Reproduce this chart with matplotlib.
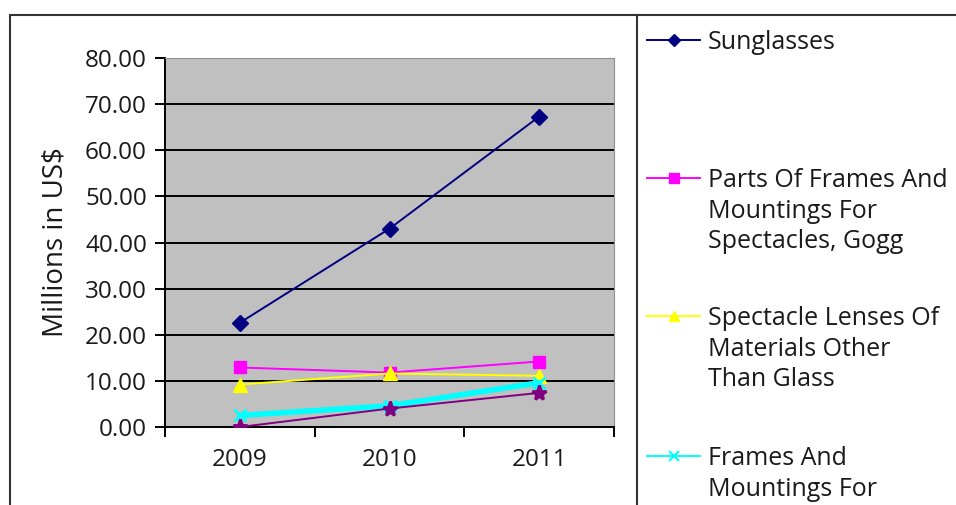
import numpy as np
import matplotlib.pyplot as plt
from matplotlib.lines import Line2D
from matplotlib.patches import Rectangle

plt.rcParams['font.family'] = ['Open Sans', 'DejaVu Sans']

# data
years = ['2009', '2010', '2011']
sunglasses = [22.6, 43.0, 67.3]
parts_frames = [12.9, 11.8, 14.2]
lenses_other = [9.2, 11.6, 11.1]
frames_mount = [2.5, 4.6, 9.6]
other_series = [0.0, 4.0, 7.4]

# only the first four legend entries fit inside the picture
labels = ['Sunglasses',
          'Parts Of Frames And\nMountings For\nSpectacles, Gogg',
          'Spectacle Lenses Of\nMaterials Other\nThan Glass',
          'Frames And\nMountings For']
series = [sunglasses, parts_frames, lenses_other, frames_mount, other_series]
colors = ['#000080', '#FF00FF', '#FFFF00', '#00FFFF', '#800080']
markers = ['D', 's', '^', 'x', '*']
msizes = [8, 8, 10, 9, 11]
lwidths = [1.4, 1.4, 1.4, 4.0, 1.4]

W, H = 956, 505
TXT = '#1a1a1a'
fig = plt.figure(figsize=(W / 100, H / 100), dpi=100)

# outer frame and legend separator (cut by the image edge)
fig.add_artist(Rectangle((10 / W, -0.1), 1.2, (H - 15) / H + 0.1,
                         transform=fig.transFigure, fill=False,
                         edgecolor='#333333', lw=1.5))
fig.add_artist(Line2D([637 / W, 637 / W], [0, (H - 15) / H],
                      transform=fig.transFigure, color='#333333', lw=1.5))

ax = fig.add_axes([165 / W, (H - 427) / H, (614 - 165) / W, (427 - 58) / H])
ax.set_facecolor('#C0C0C0')

x = np.arange(len(years))
for vals, c, m, ms, lw in zip(series, colors, markers, msizes, lwidths):
    ax.plot(x, vals, color=c, marker=m, markersize=ms, lw=lw,
            markeredgewidth=2 if m in 'x*' else 1, zorder=3)

ax.set_xlim(-0.5, 2.5)
ax.set_ylim(0, 80)
yt = np.arange(0, 81, 10)
ax.set_yticks(yt)
ax.set_yticklabels(['%.2f' % v for v in yt], fontsize=17.5, color=TXT)
ax.yaxis.grid(True, color='black', lw=1.4)
ax.set_axisbelow(True)

# category ticks sit between the years
ax.set_xticks([-0.5, 0.5, 1.5, 2.5])
ax.set_xticklabels([])
ax.set_xticks(x, minor=True)
ax.set_xticklabels(years, minor=True, fontsize=17.5, color=TXT)
ax.tick_params(axis='x', which='minor', length=0, pad=15)
ax.tick_params(axis='x', which='major', length=7, width=1.4)
ax.tick_params(axis='y', length=7, width=1.4, pad=6)

for s in ['top', 'right']:
    ax.spines[s].set_color('#909090')
ax.spines['left'].set_linewidth(1.4)
ax.spines['bottom'].set_linewidth(1.4)
ax.set_ylabel('Millions in US$', fontsize=20, labelpad=11, color=TXT)

# legend drawn by hand so the key lines up with the first text line
ys = [40, 178, 316, 456]
for lab, c, m, y in zip(labels, colors, markers, ys):
    yf = (H - y) / H
    fig.add_artist(Line2D([647 / W, 700 / W], [yf, yf], transform=fig.transFigure,
                          color=c, lw=1.4))
    fig.add_artist(Line2D([674 / W], [yf], transform=fig.transFigure,
                          color=c, marker=m, markersize=6.5, lw=0,
                          markeredgewidth=1.5 if m in 'x*' else 1))
    fig.text(708 / W, yf + 10 / H, lab, fontsize=18, va='top', ha='left',
             linespacing=1.3, color=TXT)

fig.savefig('out.png', dpi=100)
